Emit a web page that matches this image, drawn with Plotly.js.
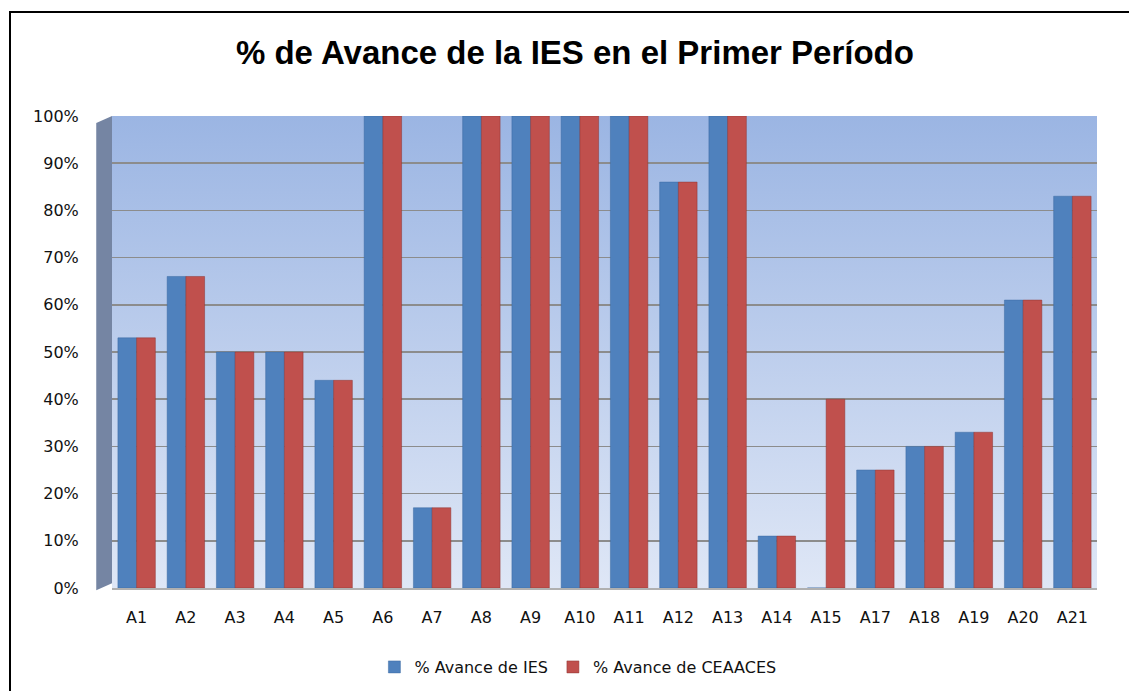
<!DOCTYPE html>
<html>
<head>
<meta charset="utf-8">
<script src="https://cdn.plot.ly/plotly-3.0.1.min.js"></script>
<style>
  html, body { margin: 0; padding: 0; background: #ffffff; overflow: hidden; }
  #frame { position: absolute; left: 9px; top: 11px; width: 1300px; height: 800px; border: 2px solid #000; box-sizing: border-box; pointer-events: none; z-index: 5; }
  #chart { position: absolute; left: 0; top: 0; width: 1129px; height: 691px; }
</style>
</head>
<body>
<div id="chart"></div>
<div id="frame"></div>
<script>
const categories = ["A1","A2","A3","A4","A5","A6","A7","A8","A9","A10","A11","A12","A13","A14","A15","A17","A18","A19","A20","A21"];
const avanceIES = [0.53,0.66,0.50,0.50,0.44,1.00,0.17,1.00,1.00,1.00,1.00,0.86,1.00,0.11,0.00,0.25,0.30,0.33,0.61,0.83];
const avanceCEAACES = [0.53,0.66,0.50,0.50,0.44,1.00,0.17,1.00,1.00,1.00,1.00,0.86,1.00,0.11,0.40,0.25,0.30,0.33,0.61,0.83];
const seriesNames = ["% Avance de IES", "% Avance de CEAACES"];
const chartTitle = "% de Avance de la IES en el Primer Período";

const gradSvg = '<svg xmlns="http://www.w3.org/2000/svg" width="100" height="100" preserveAspectRatio="none">' +
  '<defs><linearGradient id="g" x1="0" y1="0" x2="0" y2="1">' +
  '<stop offset="0" stop-color="#9bb5e3"/><stop offset="1" stop-color="#dfe7f6"/></linearGradient></defs>' +
  '<rect width="100" height="100" fill="url(#g)"/></svg>';
const gradUri = 'data:image/svg+xml;base64,' + btoa(gradSvg);

const traces = [
  { type: 'bar', x: categories, y: avanceIES, name: seriesNames[0],
    marker: { color: '#4f81bd', line: { color: '#3d6aa3', width: 0.5 } } },
  { type: 'bar', x: categories, y: avanceCEAACES, name: seriesNames[1],
    marker: { color: '#c0504d', line: { color: '#8c3432', width: 0.5 } } }
];

const tickFont = { family: 'DejaVu Sans, Verdana', size: 16, color: '#111' };

const layout = {
  width: 1129, height: 691,
  margin: { l: 112, r: 32, t: 116, b: 103 },
  paper_bgcolor: '#ffffff',
  plot_bgcolor: 'rgba(0,0,0,0)',
  barmode: 'group', bargap: 0.24, bargroupgap: 0,
  title: { text: '<b>' + chartTitle + '</b>', x: 0.47, xref: 'paper', xanchor: 'center', y: 1 - 52/691, yref: 'container', yanchor: 'middle',
           font: { family: 'Liberation Sans Narrow, Liberation Sans, Arial', size: 33, color: '#000' } },
  xaxis: { type: 'category', showgrid: false, zeroline: false, showline: true, linecolor: '#b0b0b0', linewidth: 2,
           ticks: 'outside', ticklen: 14, tickcolor: 'rgba(0,0,0,0)', tickfont: tickFont },
  yaxis: { range: [0, 1], dtick: 0.1, tickformat: '.0%', showgrid: true, gridcolor: '#8c8c8c', gridwidth: 1.5,
           zeroline: false, showline: false, ticks: 'outside', ticklen: 29, tickcolor: 'rgba(0,0,0,0)', tickfont: tickFont },
  showlegend: true,
  legend: { orientation: 'h', xref: 'paper', x: 0.473, xanchor: 'center', yref: 'container', y: 1 - 667/691, yanchor: 'middle',
            font: tickFont, itemwidth: 30, tracegroupgap: 0 },
  images: [{ source: gradUri, xref: 'paper', yref: 'paper', x: 0, y: 1, sizex: 1, sizey: 1,
             sizing: 'stretch', xanchor: 'left', yanchor: 'top', layer: 'below' }],
  shapes: [
    { type: 'path', xref: 'paper', yref: 'paper', layer: 'below',
      path: 'M -0.016 -0.005 L 0 0.01 L 0 1.0 L -0.016 0.985 Z',
      fillcolor: '#7585a3', line: { width: 0 } }
  ]
};

Plotly.newPlot('chart', traces, layout, { displayModeBar: false, staticPlot: true });
</script>
</body>
</html>
